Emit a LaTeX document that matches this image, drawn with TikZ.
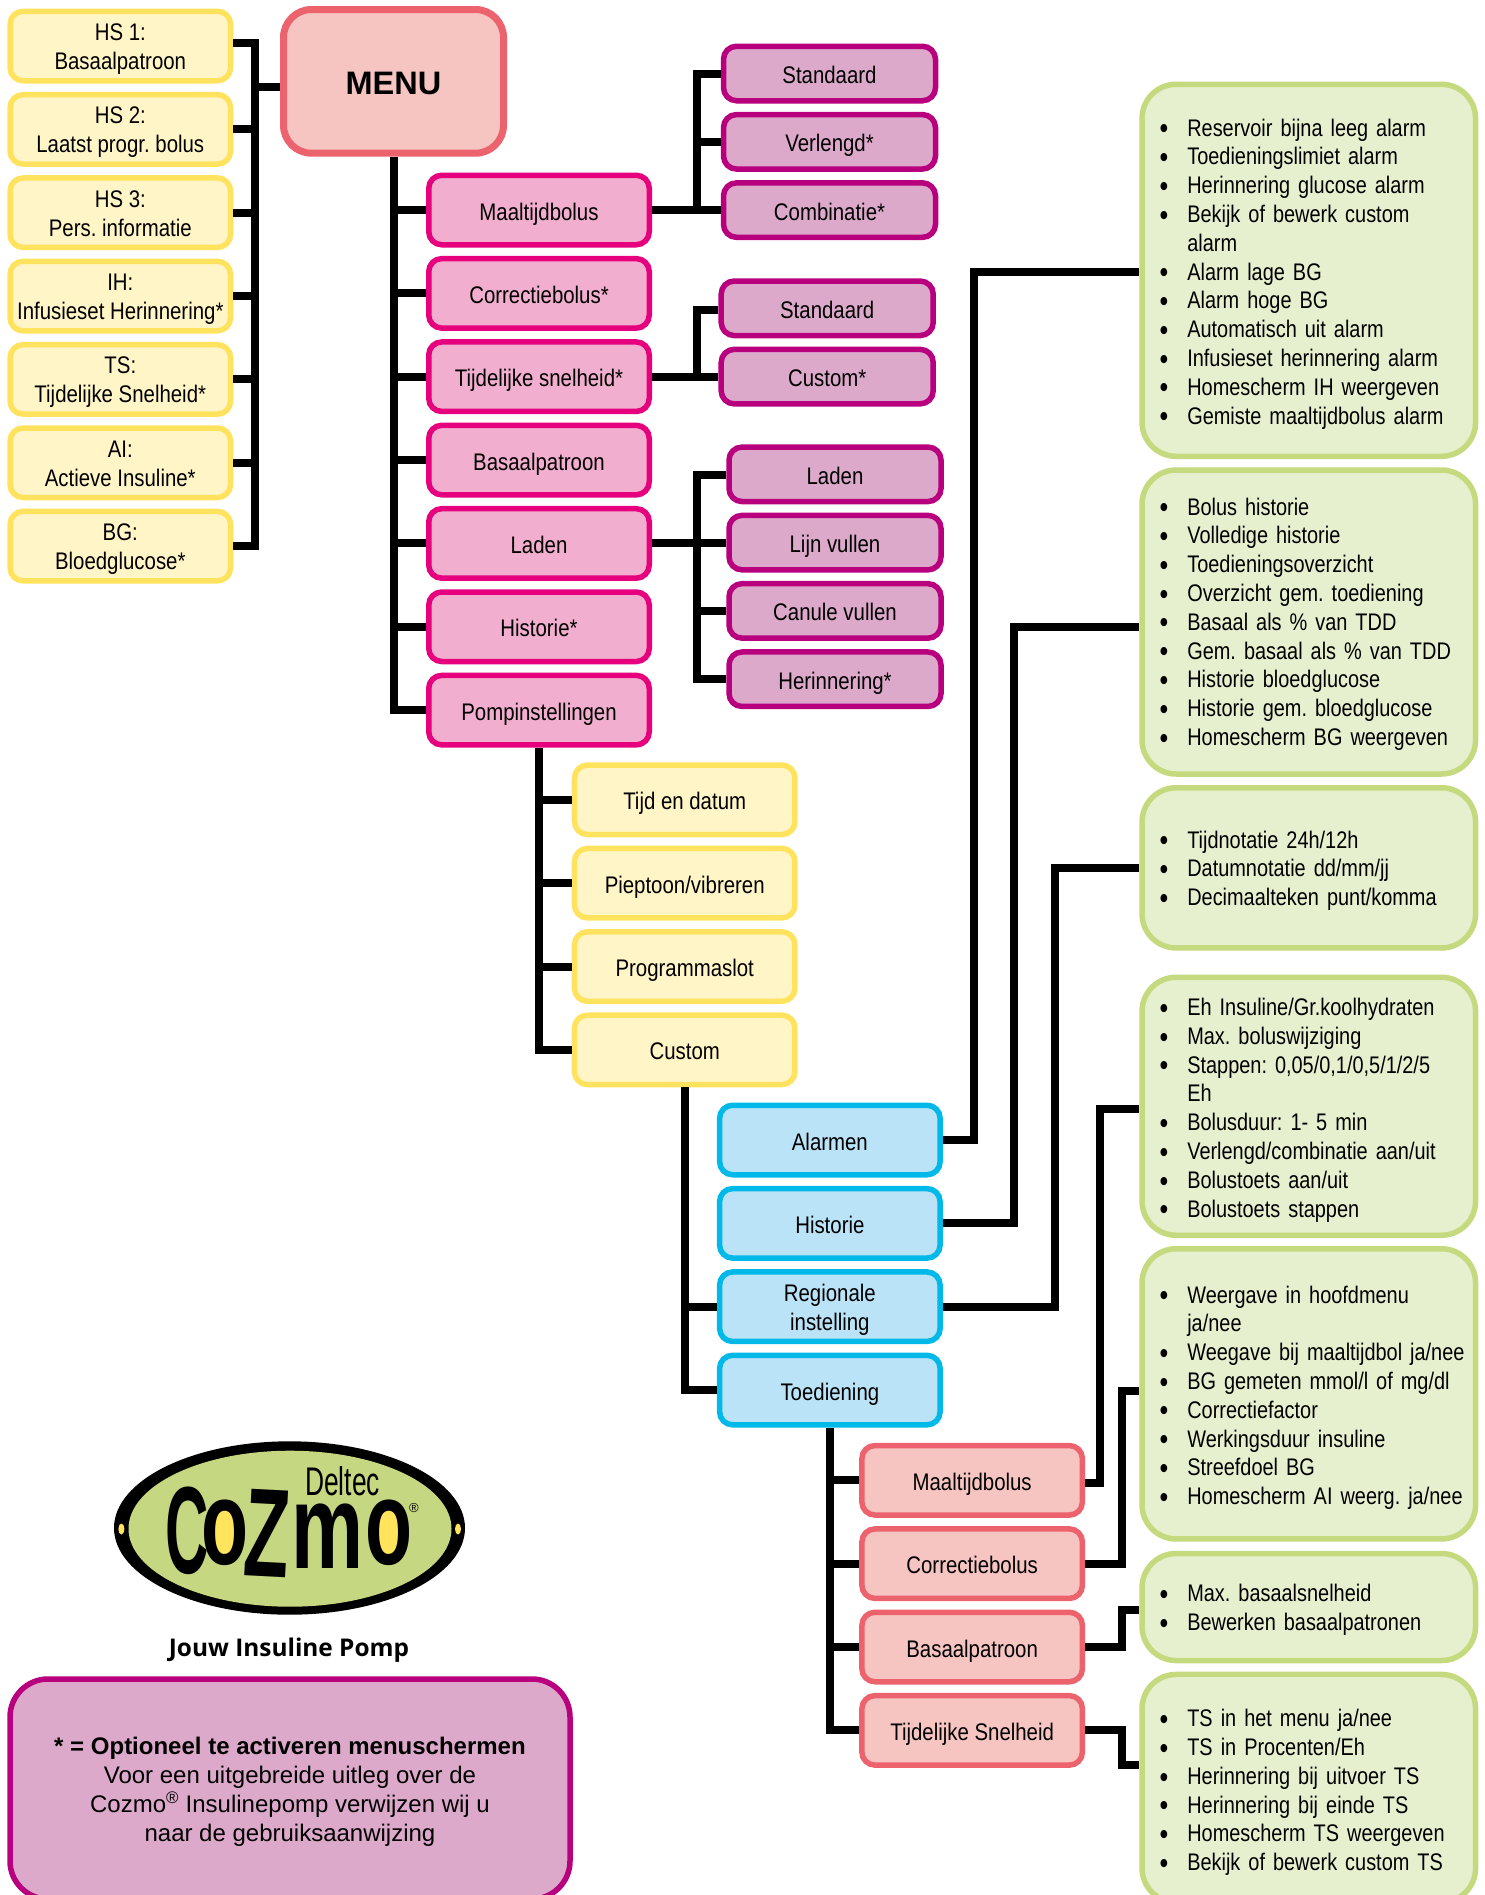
\documentclass[tikz,border=0pt]{standalone}
\usepackage{fontspec}
\setmainfont[FakeStretch=0.85]{Liberation Sans}
\newfontfamily\plainfont{Liberation Sans}
\newfontfamily\listfont[FakeStretch=0.83]{Liberation Sans}
\newfontfamily\sloganfont{Open Sans}
\usetikzlibrary{shapes,positioning}

\definecolor{yellowfill}{HTML}{FFF5C6}
\definecolor{yellowline}{HTML}{FFE35F}
\definecolor{redfill}{HTML}{F6C5C2}
\definecolor{redline}{HTML}{EC636D}
\definecolor{pinkfill}{HTML}{F1AECE}
\definecolor{pinkline}{HTML}{E6007E}
\definecolor{purplefill}{HTML}{DDA9CB}
\definecolor{purpleline}{HTML}{B8007F}
\definecolor{bluefill}{HTML}{BAE3F7}
\definecolor{blueline}{HTML}{00B9E8}
\definecolor{greenfill}{HTML}{E6F0CE}
\definecolor{greenline}{HTML}{C5D97E}
\definecolor{logogreen}{HTML}{C5D881}
\definecolor{logoyellow}{HTML}{FFE45C}

\newcommand{\bulletmark}{\raisebox{-2.7pt}{\fontsize{30}{30}\selectfont\textbullet}}
\newenvironment{bulletlist}{\begin{list}{\bulletmark}{%
  \setlength\leftmargin{37pt}\setlength\labelsep{19pt}\setlength\labelwidth{16pt}%
  \setlength\itemsep{0pt}\setlength\parsep{0pt}\setlength\topsep{0pt}%
  \setlength\partopsep{0pt}\setlength\rightmargin{0pt}}\raggedright}{\end{list}}

\begin{document}
\frenchspacing
\begin{tikzpicture}[x=1pt, y=-1pt, node distance=83.35pt,
  every node/.style={font=\fontsize{24}{28.8}\selectfont}]
\tikzstyle{box} = [rectangle, draw, align=center, rounded corners=13pt, line width=5.5pt, inner sep=0pt, minimum width=220.5pt, minimum height=69.5pt, text height=22pt, text depth=2pt]
\tikzstyle{twolines} = [text height=48pt, text depth=1.4pt]
\tikzstyle{yellowbox} = [box, fill=yellowfill, draw=yellowline]
\tikzstyle{pinkbox} = [box, fill=pinkfill, draw=pinkline]
\tikzstyle{bluebox} = [box, fill=bluefill, draw=blueline]
\tikzstyle{redbox} = [box, fill=redfill, draw=redline]
\tikzstyle{purplebox} = [box, fill=purplefill, draw=purpleline, minimum width=212pt, minimum height=54.5pt, node distance=68.3pt, text height=21pt, text depth=1pt]
\tikzstyle{greenbox} = [rectangle, draw=greenline, fill=greenfill, rounded corners=34pt, line width=5.5pt, inner xsep=8pt, inner ysep=0pt, text width=317pt, minimum width=333.5pt, text height=5pt, font=\listfont\fontsize{24}{28.8}\selectfont]
\tikzstyle{line} = [draw, line width=8pt]
\tikzstyle{logoletter} = [inner sep=0pt, font=\fontsize{100}{100}\selectfont\plainfont\bfseries]

\useasboundingbox (0,0) rectangle (1484,1895);

\node [box, fill=redfill, draw=redline, line width=7pt, rounded corners=28pt, minimum width=220pt, minimum height=143.7pt, text height=28pt, text depth=2pt, font=\fontsize{32.5}{32.5}\selectfont\plainfont\bfseries] (menu) at (393.5,81.35) {MENU};

\node [yellowbox, twolines] (hsone) at (120.3,46) {HS 1:\\Basaalpatroon};
\node [yellowbox, twolines, below of=hsone] (hstwo) {HS 2:\\Laatst progr. bolus};
\node [yellowbox, twolines, below of=hstwo] (hsthree) {HS 3:\\Pers. informatie};
\node [yellowbox, twolines, below of=hsthree] (ih) {IH:\\Infusieset Herinnering*};
\node [yellowbox, twolines, below of=ih] (ts) {TS:\\Tijdelijke Snelheid*};
\node [yellowbox, twolines, below of=ts] (ai) {AI:\\Actieve Insuline*};
\node [yellowbox, twolines, below of=ai] (bg) {BG:\\Bloedglucose*};

\node [pinkbox] (maaltijd) at (539,210) {Maaltijdbolus};
\node [pinkbox, below of=maaltijd] (correctie) {Correctiebolus*};
\node [pinkbox, below of=correctie] (tijdelijk) {Tijdelijke snelheid*};
\node [pinkbox, below of=tijdelijk] (basaal) {Basaalpatroon};
\node [pinkbox, below of=basaal] (laden) {Laden};
\node [pinkbox, below of=laden] (historie) {Historie*};
\node [pinkbox, below of=historie] (pomp) {Pompinstellingen};

\node [purplebox] (standaard) at (829.5,73.5) {Standaard};
\node [purplebox, below of=standaard] (verlengd) {Verlengd*};
\node [purplebox, below of=verlengd] (combinatie) {Combinatie*};
\node [purplebox] (tsstandaard) at (827.2,308.3) {Standaard};
\node [purplebox, below of=tsstandaard] (tscustom) {Custom*};
\node [purplebox] (ladenladen) at (835,474.3) {Laden};
\node [purplebox, below of=ladenladen] (lijn) {Lijn vullen};
\node [purplebox, below of=lijn] (canule) {Canule vullen};
\node [purplebox, below of=canule] (herinnering) {Herinnering*};

\node [yellowbox] (tijd) at (684.7,799.8) {Tijd en datum};
\node [yellowbox, below of=tijd] (piep) {Pieptoon/vibreren};
\node [yellowbox, below of=piep] (slot) {Programmaslot};
\node [yellowbox, below of=slot] (custom) {Custom};

\node [bluebox] (alarmen) at (829.85,1140) {Alarmen};
\node [bluebox, below of=alarmen] (histset) {Historie};
\node [bluebox, twolines, below of=histset] (regio) {Regionale\\instelling};
\node [bluebox, below of=regio] (toed) {Toediening};

\node [redbox] (toedmaal) at (972.15,1480.3) {Maaltijdbolus};
\node [redbox, below of=toedmaal] (toedcorr) {Correctiebolus};
\node [redbox, below of=toedcorr] (toedbas) {Basaalpatroon};
\node [redbox, below of=toedbas] (toedts) {Tijdelijke Snelheid};

\node [greenbox, minimum height=372pt, text depth=331.2pt] (listalarm) at (1308.8,270.3) {\begin{bulletlist}
\item Reservoir bijna leeg alarm
\item Toedieningslimiet alarm
\item Herinnering glucose alarm
\item Bekijk of bewerk custom\newline alarm
\item Alarm lage BG
\item Alarm hoge BG
\item Automatisch uit alarm
\item Infusieset herinnering alarm
\item Homescherm IH weergeven
\item Gemiste maaltijdbolus alarm
\end{bulletlist}};
\node [greenbox, minimum height=304pt, text depth=276.6pt] (listhist) at (1308.8,622) {\begin{bulletlist}
\item Bolus historie
\item Volledige historie
\item Toedieningsoverzicht
\item Overzicht gem. toediening
\item Basaal als \% van TDD
\item Gem. basaal als \% van TDD
\item Historie bloedglucose
\item Historie gem. bloedglucose
\item Homescherm BG weergeven
\end{bulletlist}};
\node [greenbox, minimum height=160.2pt, text depth=102.3pt] (listregio) at (1308.8,867.85) {\begin{bulletlist}
\item Tijdnotatie 24h/12h
\item Datumnotatie dd/mm/jj
\item Decimaalteken punt/komma
\end{bulletlist}};
\node [greenbox, minimum height=258pt, text depth=244.1pt] (listmaal) at (1308.8,1106.25) {\begin{bulletlist}
\item Eh Insuline/Gr.koolhydraten
\item Max. boluswijziging
\item Stappen: 0,05/0,1/0,5/1/2/5\newline Eh
\item Bolusduur: 1- 5 min
\item Verlengd/combinatie aan/uit
\item Bolustoets aan/uit
\item Bolustoets stappen
\end{bulletlist}};
\node [greenbox, minimum height=290.2pt, text depth=244.3pt] (listcorr) at (1308.8,1393.85) {\begin{bulletlist}
\item Weergave in hoofdmenu\newline ja/nee
\item Weegave bij maaltijdbol ja/nee
\item BG gemeten mmol/l of mg/dl
\item Correctiefactor
\item Werkingsduur insuline
\item Streefdoel BG
\item Homescherm AI weerg. ja/nee
\end{bulletlist}};
\node [greenbox, minimum height=107pt, text depth=73.2pt] (listbas) at (1308.8,1607) {\begin{bulletlist}
\item Max. basaalsnelheid
\item Bewerken basaalpatronen
\end{bulletlist}};
\node [greenbox, minimum height=227.8pt, text depth=185.9pt] (listts) at (1308.8,1788.35) {\begin{bulletlist}
\item TS in het menu ja/nee
\item TS in Procenten/Eh
\item Herinnering bij uitvoer TS
\item Herinnering bij einde TS
\item Homescherm TS weergeven
\item Bekijk of bewerk custom TS
\end{bulletlist}};

\coordinate (leftbus) at (255,300);
\coordinate (menustub) at ([yshift=-6pt]menu.west);
\path [line] ([yshift=3pt]hsone.east) -| (leftbus) |- (bg.east);
\path [line] (menustub) -- (menustub -| leftbus);
\path [line] (hstwo.east) -- (hstwo.east -| leftbus);
\path [line] (hsthree.east) -- (hsthree.east -| leftbus);
\path [line] (ih.east) -- (ih.east -| leftbus);
\path [line] (ts.east) -- (ts.east -| leftbus);
\path [line] (ai.east) -- (ai.east -| leftbus);

\path [line] (menu.south) |- (pomp.west);
\path [line] (menu.south |- maaltijd.west) -- (maaltijd.west);
\path [line] (menu.south |- correctie.west) -- (correctie.west);
\path [line] (menu.south |- tijdelijk.west) -- (tijdelijk.west);
\path [line] (menu.south |- basaal.west) -- (basaal.west);
\path [line] (menu.south |- laden.west) -- (laden.west);
\path [line] (menu.south |- historie.west) -- (historie.west);

\coordinate (subbus) at (697.3,300);
\path [line] (maaltijd.east) -- (maaltijd.east -| combinatie.west);
\path [line] (standaard.west) -| (subbus |- maaltijd.east);
\path [line] (verlengd.west) -- (verlengd.west -| subbus);
\path [line] (tijdelijk.east) -- (tijdelijk.east -| tscustom.west);
\path [line] ([yshift=-2pt]tsstandaard.west) -| (subbus |- tijdelijk.east);
\path [line] (laden.east) -- (laden.east -| lijn.west);
\path [line] ([yshift=-1pt]ladenladen.west) -| (subbus |- herinnering.west) -- (herinnering.west);
\path [line] (canule.west) -- (canule.west -| subbus);

\path [line] (pomp.south) |- (custom.west);
\path [line] (pomp.south |- tijd.west) -- (tijd.west);
\path [line] (pomp.south |- piep.west) -- (piep.west);
\path [line] (pomp.south |- slot.west) -- (slot.west);

\path [line] (custom.south) |- (toed.west);
\path [line] (custom.south |- regio.west) -- (regio.west);

\path [line] (toed.south) |- (toedts.west);
\path [line] (toed.south |- toedmaal.west) -- (toedmaal.west);
\path [line] (toed.south |- toedcorr.west) -- (toedcorr.west);
\path [line] (toed.south |- toedbas.west) -- (toedbas.west);

\coordinate (alarmin) at (974,272);
\coordinate (histin) at (1014,627);
\coordinate (regioin) at (1054.5,868);
\coordinate (maalin) at (1100,1109);
\coordinate (corrin) at (1121.5,1391);
\coordinate (basin) at (1121.5,1610);
\coordinate (tsin) at (1121.5,1765);
\path [line] (alarmen.east) -| (alarmin) -- (alarmin -| listalarm.west);
\path [line] (histset.east) -| (histin) -- (histin -| listhist.west);
\path [line] (regio.east) -| (regioin) -- (regioin -| listregio.west);
\path [line] ([yshift=-3pt]toedmaal.east) -| (maalin) -- (maalin -| listmaal.west);
\path [line] (toedcorr.east) -| (corrin) -- (corrin -| listcorr.west);
\path [line] (toedbas.east) -| (basin) -- (basin -| listbas.west);
\path [line] (toedts.east) -| (tsin) -- (tsin -| listts.west);

\fill [black] (289.5,1528) ellipse [x radius=175.5pt, y radius=86.7pt];
\fill [logogreen] (290,1528.7) ellipse [x radius=161.5pt, y radius=78pt];
\fill [logoyellow] (121.4,1529) ellipse [x radius=3pt, y radius=5.5pt];
\fill [logoyellow] (458,1529) ellipse [x radius=3pt, y radius=5.5pt];
\fill [logoyellow] (225.5,1533) ellipse [x radius=14pt, y radius=24pt];
\fill [logoyellow] (389.5,1533) ellipse [x radius=14pt, y radius=24pt];
\node [logoletter] (logoc) at (187,1531) {\scalebox{.6}[1.24]{C}};
\node [logoletter] (logoo) at (225.5,1533) {\scalebox{.77}[1.2]{o}};
\node [logoletter, rotate=-3] (logoz) at (267,1533) {\scalebox{.74}[1.26]{Z}};
\node [logoletter] (logom) at (328,1536) {\scalebox{.81}[1.2]{m}};
\node [logoletter] (logooo) at (389.5,1533) {\scalebox{.77}[1.2]{o}};
\node [inner sep=0pt, font=\fontsize{40}{40}\selectfont\plainfont] (deltec) at (342.5,1481) {\scalebox{.66}[1]{Deltec}};
\node [inner sep=0pt, font=\fontsize{13}{13}\selectfont\plainfont] (logoreg) at (414,1508) {®};
\node [inner sep=0pt, font=\fontsize{24.4}{24.4}\selectfont\sloganfont\bfseries] (slogan) at (289,1650) {Jouw Insuline Pomp};

\node [box, fill=purplefill, draw=purpleline, rounded corners=38pt, minimum width=560pt, minimum height=220pt, text height=106pt, text depth=2pt, font=\fontsize{24}{28.7}\selectfont\plainfont] (note) at (290,1789) {{\bfseries * = Optioneel te activeren menuschermen}\\Voor een uitgebreide uitleg over de\\Cozmo\textsuperscript{®} Insulinepomp verwijzen wij u\\naar de gebruiksaanwijzing};
\end{tikzpicture}
\end{document}
